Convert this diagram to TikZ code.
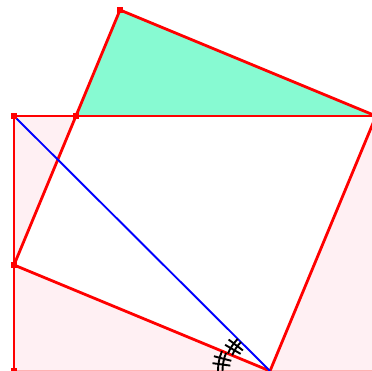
\documentclass[tikz,border=0pt]{standalone}
\usepackage{xcolor}
\usepackage{tikz}
\definecolor{sqpink}{RGB}{255,240,243}
\definecolor{triggreen}{RGB}{135,250,210}

\begin{document}
\begin{tikzpicture}[x=1pt,y=1pt,
  side/.style={red,line width=2.8pt,line join=round},
  diag/.style={blue,line width=1.9pt},
  dot/.style={rectangle,fill=red,minimum size=6pt,inner sep=0pt},
  tick/.style={black,line width=1.9pt}]

  \useasboundingbox (0,0) rectangle (372,371);
  \clip (0,0) rectangle (372,371);

  \coordinate (A) at (14,255);
  \coordinate (B) at (14,0);
  \coordinate (C) at (376,0);
  \coordinate (P) at (120,361);
  \coordinate (Q) at (14,106);
  \coordinate (R) at (270,0);
  \coordinate (S) at (376,255);
  \coordinate (X) at (75.9,255);

  % fills
  \fill[sqpink] (B) rectangle (S);
  \draw[red!30,line width=2.4pt] (B) -- (C);
  \fill[white] (P) -- (Q) -- (R) -- (S) -- cycle;
  \fill[triggreen] (X) -- (P) -- (S) -- cycle;

  % sides
  \draw[side] (A) -- (S);
  \draw[side] (A) -- (B);
  \draw[side] (P) -- (Q) -- (R) -- (S) -- cycle;
  \draw[diag] (A) -- (R);

  % equal angles at R
  \draw[tick] ([shift={(180:47.5)}]R) arc[start angle=180,end angle=157.5,radius=47.5];
  \draw[tick] ([shift={(180:52)}]R) arc[start angle=180,end angle=157.5,radius=52];
  \draw[tick] ([shift={(165.25:40)}]R) -- ([shift={(165.25:58)}]R);
  \draw[tick] ([shift={(172.25:40)}]R) -- ([shift={(172.25:58)}]R);
  \draw[tick] ([shift={(157.5:41)}]R) arc[start angle=157.5,end angle=135,radius=41];
  \draw[tick] ([shift={(157.5:45.5)}]R) arc[start angle=157.5,end angle=135,radius=45.5];
  \draw[tick] ([shift={(142.75:34)}]R) -- ([shift={(142.75:52)}]R);
  \draw[tick] ([shift={(149.75:34)}]R) -- ([shift={(149.75:52)}]R);

  % points
  \node[dot] (a) at (A) {};
  \node[dot] (b) at (B) {};
  \node[dot] (p) at (P) {};
  \node[dot] (q) at (Q) {};
  \node[dot] (x) at (X) {};

\end{tikzpicture}
\end{document}
